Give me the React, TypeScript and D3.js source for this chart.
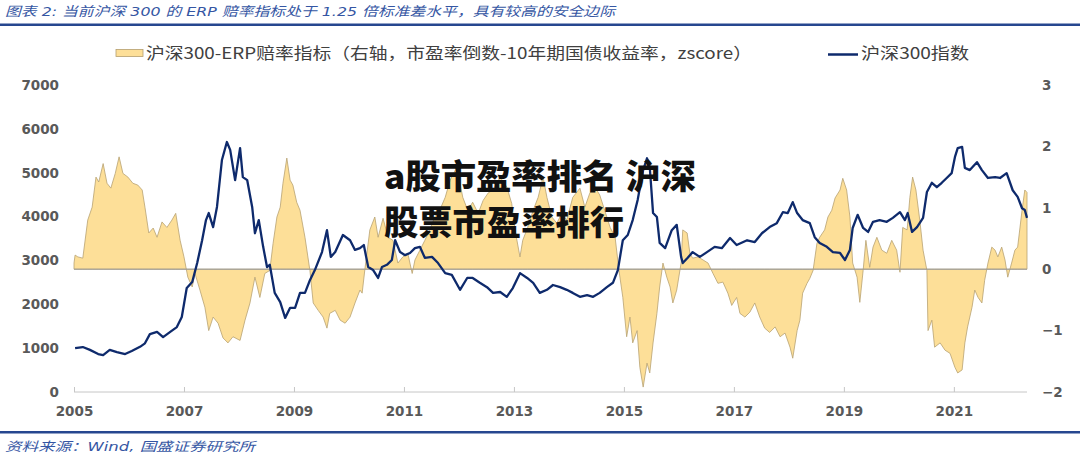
import { useEffect, useRef } from 'react'
import * as d3 from 'd3'

// 沪深300指数 (左轴)
const idxYears = [
  2005.02, 2005.16, 2005.29, 2005.44, 2005.53, 2005.65, 2005.78, 2005.93, 2006.05, 2006.2, 2006.29, 2006.38,
  2006.51, 2006.62, 2006.75, 2006.87, 2006.96, 2007.05, 2007.15, 2007.24, 2007.33, 2007.4, 2007.45, 2007.53,
  2007.6, 2007.69, 2007.78, 2007.84, 2007.93, 2008.02, 2008.07, 2008.15, 2008.24, 2008.29, 2008.36, 2008.44,
  2008.51, 2008.56, 2008.65, 2008.75, 2008.84, 2008.93, 2009.02, 2009.11, 2009.2, 2009.29, 2009.38, 2009.51,
  2009.6, 2009.67, 2009.75, 2009.89, 2010.02, 2010.11, 2010.2, 2010.27, 2010.35, 2010.44, 2010.53, 2010.6,
  2010.69, 2010.78, 2010.84, 2010.93, 2011.02, 2011.11, 2011.2, 2011.29, 2011.38, 2011.51, 2011.62, 2011.75,
  2011.87, 2012.02, 2012.15, 2012.25, 2012.38, 2012.51, 2012.62, 2012.75, 2012.87, 2012.98, 2013.11, 2013.24,
  2013.35, 2013.47, 2013.6, 2013.71, 2013.84, 2013.96, 2014.07, 2014.2, 2014.33, 2014.44, 2014.56, 2014.69,
  2014.8, 2014.89, 2014.98, 2015.07, 2015.16, 2015.25, 2015.35, 2015.42, 2015.47, 2015.53, 2015.6, 2015.65,
  2015.75, 2015.87, 2015.96, 2016.04, 2016.07, 2016.16, 2016.25, 2016.38, 2016.51, 2016.65, 2016.78, 2016.93,
  2017.05, 2017.24, 2017.38, 2017.51, 2017.65, 2017.78, 2017.89, 2017.98, 2018.07, 2018.15, 2018.25, 2018.38,
  2018.47, 2018.56, 2018.69, 2018.8, 2018.93, 2019.02, 2019.11, 2019.16, 2019.25, 2019.35, 2019.44, 2019.53,
  2019.65, 2019.78, 2019.89, 2020.02, 2020.11, 2020.16, 2020.24, 2020.33, 2020.44, 2020.51, 2020.6, 2020.69,
  2020.78, 2020.87, 2020.96, 2021.02, 2021.07, 2021.15, 2021.2, 2021.29, 2021.42, 2021.51, 2021.62, 2021.75,
  2021.84, 2021.96, 2022.07, 2022.16, 2022.24, 2022.29, 2022.33,
]
const idxValues = [
  1000, 1025, 960, 866, 840, 960, 910, 866, 935, 1030, 1110, 1320,
  1370, 1250, 1370, 1480, 1710, 2370, 2510, 2940, 3460, 3920, 4080, 3760,
  4220, 5290, 5700, 5520, 4830, 5560, 4900, 4830, 4220, 3620, 3920, 3310,
  2850, 2900, 2260, 2050, 1690, 1920, 1920, 2260, 2260, 2550, 2780, 3190,
  3690, 3080, 3190, 3580, 3460, 3240, 3280, 3350, 2850, 2780, 2600, 2850,
  2900, 3010, 3460, 3190, 3120, 3170, 3280, 3310, 3060, 3080, 2940, 2710,
  2670, 2330, 2600, 2600, 2490, 2390, 2260, 2280, 2170, 2370, 2710, 2600,
  2490, 2260, 2330, 2440, 2390, 2330, 2260, 2170, 2210, 2170, 2260, 2390,
  2490, 2780, 3460, 3580, 3920, 4380, 5060, 5330, 5130, 4080, 3990, 3400,
  3280, 3690, 3810, 3080, 2940, 3060, 3190, 3080, 3190, 3310, 3280, 3510,
  3350, 3460, 3420, 3620, 3760, 3850, 4100, 4080, 4330, 4080, 3920, 3850,
  3530, 3400, 3310, 3190, 3170, 3010, 3240, 3740, 4040, 3740, 3650, 3880,
  3920, 3880, 3970, 4100, 3920, 4080, 3650, 3760, 3970, 4560, 4770, 4670,
  4770, 4880, 4990, 5360, 5560, 5590, 5110, 5060, 5240, 5060, 4880, 4900,
  4880, 4990, 4600, 4450, 4190, 4150, 3970,
]

// 沪深300-ERP赔率指标 zscore (右轴)
const erpYears = [
  2005.0, 2005.02, 2005.07, 2005.16, 2005.25, 2005.33, 2005.4, 2005.45, 2005.53, 2005.6, 2005.67, 2005.75,
  2005.82, 2005.89, 2005.98, 2006.07, 2006.16, 2006.24, 2006.29, 2006.36, 2006.44, 2006.51, 2006.6, 2006.69,
  2006.78, 2006.85, 2006.93, 2007.0, 2007.07, 2007.15, 2007.2, 2007.29, 2007.38, 2007.45, 2007.53, 2007.62,
  2007.71, 2007.8, 2007.89, 2008.02, 2008.11, 2008.2, 2008.29, 2008.38, 2008.47, 2008.56, 2008.62, 2008.69,
  2008.75, 2008.8, 2008.87, 2008.93, 2008.98, 2009.05, 2009.11, 2009.2, 2009.29, 2009.35, 2009.44, 2009.53,
  2009.6, 2009.65, 2009.75, 2009.84, 2009.93, 2010.02, 2010.11, 2010.2, 2010.24, 2010.29, 2010.38, 2010.47,
  2010.53, 2010.62, 2010.71, 2010.8, 2010.89, 2010.98, 2011.07, 2011.15, 2011.2, 2011.29, 2011.38, 2011.47,
  2011.56, 2011.65, 2011.75, 2011.84, 2011.96, 2012.07, 2012.16, 2012.25, 2012.35, 2012.44, 2012.53, 2012.62,
  2012.75, 2012.87, 2012.96, 2013.02, 2013.11, 2013.16, 2013.25, 2013.35, 2013.44, 2013.53, 2013.6, 2013.69,
  2013.78, 2013.87, 2013.96, 2014.07, 2014.2, 2014.29, 2014.38, 2014.47, 2014.56, 2014.65, 2014.75, 2014.84,
  2014.91, 2014.98, 2015.05, 2015.11, 2015.16, 2015.24, 2015.29, 2015.35, 2015.42, 2015.47, 2015.53, 2015.6,
  2015.65, 2015.71, 2015.78, 2015.84, 2015.89, 2015.96, 2016.04, 2016.07, 2016.15, 2016.2, 2016.25, 2016.35,
  2016.44, 2016.53, 2016.62, 2016.71, 2016.8, 2016.89, 2016.96, 2017.05, 2017.11, 2017.2, 2017.29, 2017.38,
  2017.47, 2017.56, 2017.65, 2017.75, 2017.84, 2017.93, 2018.02, 2018.07, 2018.15, 2018.2, 2018.25, 2018.33,
  2018.38, 2018.44, 2018.51, 2018.56, 2018.65, 2018.71, 2018.78, 2018.84, 2018.93, 2018.98, 2019.05, 2019.11,
  2019.16, 2019.24, 2019.29, 2019.35, 2019.4, 2019.47, 2019.53, 2019.6, 2019.69, 2019.78, 2019.87, 2019.96,
  2020.02, 2020.07, 2020.15, 2020.2, 2020.25, 2020.31, 2020.38, 2020.44, 2020.51, 2020.53, 2020.6, 2020.65,
  2020.75, 2020.84, 2020.93, 2021.02, 2021.07, 2021.15, 2021.2, 2021.25, 2021.33, 2021.38, 2021.44, 2021.51,
  2021.56, 2021.62, 2021.69, 2021.75, 2021.8, 2021.87, 2021.93, 2021.98, 2022.05, 2022.11, 2022.16, 2022.24,
  2022.29, 2022.33,
]
const erpValues = [
  0.1, 0.23, 0.2, 0.18, 0.8, 1.01, 1.5, 1.42, 1.72, 1.4, 1.32, 1.56,
  1.83, 1.56, 1.5, 1.4, 1.37, 1.29, 1.01, 0.59, 0.67, 0.52, 0.77, 0.68,
  0.8, 0.91, 0.47, 0.2, -0.13, -0.29, -0.07, -0.34, -0.62, -1.0, -0.78, -0.88,
  -1.12, -1.2, -1.1, -1.16, -0.83, -0.55, -0.13, -0.46, -0.07, -0.02, 0.42, 0.85,
  1.01, 1.4, 1.81, 1.45, 1.37, 1.09, 0.96, 0.52, -0.02, -0.55, -0.67, -0.78,
  -0.96, -0.72, -0.67, -0.83, -0.88, -0.78, -0.55, -0.34, -0.39, 0.0, 0.64, 0.85,
  0.52, 0.83, 0.52, 0.47, 0.1, 0.2, 0.26, -0.07, 0.15, 0.31, 0.47, 0.64,
  0.85, 0.96, 1.17, 1.45, 1.66, 1.17, 0.96, 1.09, 0.91, 1.12, 1.24, 1.29,
  1.5, 1.34, 1.07, 0.64, 0.2, 0.47, 0.68, 0.96, 1.17, 1.5, 1.17, 0.85,
  0.75, 0.91, 0.8, 1.17, 1.32, 1.01, 1.24, 1.34, 1.21, 0.96, 0.68, 0.52,
  -0.02, -0.46, -1.1, -0.78, -1.2, -1.0, -1.6, -1.92, -1.53, -1.69, -1.2, -0.72,
  -0.29, 0.1, -0.13, -0.29, -0.55, -0.34, 0.1, 0.64, 0.59, 0.26, 0.18, 0.2,
  0.15, 0.1, -0.07, -0.23, -0.21, -0.39, -0.59, -0.46, -0.72, -0.78, -0.7, -0.55,
  -0.78, -0.96, -1.03, -0.94, -1.1, -1.04, -1.27, -1.45, -1.0, -0.83, -0.39, -0.23,
  -0.15, -0.02, 0.42, 0.52, 0.64, 0.85, 0.96, 1.16, 1.29, 1.48, 1.29, 0.85,
  0.1, -0.13, -0.54, -0.02, 0.47, 0.03, 0.36, 0.52, 0.31, 0.26, 0.47, 0.31,
  -0.05, 0.68, 0.64, 1.17, 1.5, 1.29, 0.8, 0.31, -0.02, -1.0, -0.83, -1.27,
  -1.2, -1.32, -1.37, -1.6, -1.69, -1.64, -1.2, -0.94, -0.62, -0.34, -0.46, -0.55,
  -0.18, 0.1, 0.36, 0.31, 0.2, 0.36, 0.15, -0.13, 0.1, 0.31, 0.36, 0.96,
  1.29, 1.25,
]

const xTicks = [2005, 2007, 2009, 2011, 2013, 2015, 2017, 2019, 2021]
const leftTicks = [0, 1000, 2000, 3000, 4000, 5000, 6000, 7000]
const rightTicks = [-2, -1, 0, 1, 2, 3]

const W = 1080
const H = 458
const CJK = '"Noto Sans CJK SC", sans-serif'
const NUM = '"DejaVu Sans", Verdana, sans-serif'

export default function App() {
  const svgRef = useRef<SVGSVGElement>(null)

  useEffect(() => {
    if (!svgRef.current) return
    const svg = d3.select(svgRef.current)
    svg.selectAll('*').remove()

    const m = { left: 74, right: 1027, top: 85, bottom: 392 }
    const x = d3.scaleLinear().domain([2005, 2022.33]).range([m.left, m.right])
    const yL = d3.scaleLinear().domain([0, 7000]).range([m.bottom, m.top])
    const yR = d3.scaleLinear().domain([-2, 3]).range([m.bottom, m.top])

    svg.append('rect').attr('width', W).attr('height', H).attr('fill', '#fff')

    // title + rules
    svg.append('text')
      .attr('x', 5).attr('y', 16)
      .attr('font-family', `${NUM.replace(', sans-serif', '')}, ${CJK}`)
      .attr('font-style', 'italic').attr('font-size', 13)
      .attr('fill', '#3556a3')
      .attr('textLength', 610).attr('lengthAdjust', 'spacingAndGlyphs')
      .text('图表 2:  当前沪深 300 的 ERP 赔率指标处于 1.25 倍标准差水平，具有较高的安全边际')
    svg.append('rect').attr('x', 0).attr('y', 23.5).attr('width', W).attr('height', 2.5).attr('fill', '#26478f')
    svg.append('rect').attr('x', 0).attr('y', 431).attr('width', W).attr('height', 2.5).attr('fill', '#26478f')
    svg.append('text')
      .attr('x', 5).attr('y', 451)
      .attr('font-family', `"DejaVu Sans", ${CJK}`)
      .attr('font-style', 'italic').attr('font-size', 12.5)
      .attr('fill', '#3556a3')
      .attr('textLength', 250).attr('lengthAdjust', 'spacingAndGlyphs')
      .text('资料来源：Wind, 国盛证券研究所')

    // legend
    const lg = svg.append('g').attr('font-family', CJK).attr('font-size', 16).attr('fill', '#404040')
    lg.append('rect').attr('x', 116).attr('y', 49.5).attr('width', 27).attr('height', 7)
      .attr('fill', '#fddf98').attr('stroke', '#b59f6e').attr('stroke-width', 0.8)
    lg.append('text').attr('x', 146).attr('y', 59)
      .attr('textLength', 606).attr('lengthAdjust', 'spacingAndGlyphs')
      .text('沪深300-ERP赔率指标（右轴，市盈率倒数-10年期国债收益率，zscore）')
    lg.append('line').attr('x1', 828).attr('x2', 858).attr('y1', 54.5).attr('y2', 54.5)
      .attr('stroke', '#0e2a6c').attr('stroke-width', 2.5)
    lg.append('text').attr('x', 861).attr('y', 59)
      .attr('textLength', 108).attr('lengthAdjust', 'spacingAndGlyphs')
      .text('沪深300指数')

    const plot = svg.append('g')

    // ERP area
    const area = d3.area<number>()
      .x((_, i) => x(erpYears[i]))
      .y0(yR(0))
      .y1(d => yR(d))
    plot.append('path').datum(erpValues).attr('d', area)
      .attr('fill', '#fddf98').attr('stroke', '#b8a272').attr('stroke-width', 0.8)
      .attr('stroke-linejoin', 'round')

    // zero line
    plot.append('line')
      .attr('x1', m.left).attr('x2', m.right)
      .attr('y1', yR(0)).attr('y2', yR(0))
      .attr('stroke', '#9a9a9a').attr('stroke-width', 1)

    // index line
    const line = d3.line<number>()
      .x((_, i) => x(idxYears[i]))
      .y(d => yL(d))
    plot.append('path').datum(idxValues).attr('d', line)
      .attr('fill', 'none').attr('stroke', '#0e2a6c').attr('stroke-width', 2.3)
      .attr('stroke-linejoin', 'round')

    // x axis
    const xa = svg.append('g').attr('transform', `translate(0,${m.bottom})`)
      .call(d3.axisBottom(x).tickValues(xTicks).tickFormat(d3.format('d')).tickSizeInner(-5).tickSizeOuter(0).tickPadding(14))
    xa.select('.domain').attr('stroke', '#c6c6c6').attr('d', `M${m.left},0H${m.right}`)
    xa.selectAll('line').attr('stroke', '#c6c6c6')
    xa.selectAll('text').attr('font-family', NUM).attr('font-weight', 'bold')
      .attr('font-size', 13.5).attr('fill', '#595959')

    // left axis
    const la = svg.append('g').attr('transform', `translate(${m.left},0)`)
      .call(d3.axisLeft(yL).tickValues(leftTicks).tickFormat(d3.format('d')).tickSize(0).tickPadding(15))
    la.select('.domain').remove()
    la.selectAll('text').attr('font-family', NUM).attr('font-weight', 'bold')
      .attr('font-size', 13.5).attr('fill', '#595959')

    // right axis
    const ra = svg.append('g').attr('transform', `translate(${m.right},0)`)
      .call(d3.axisRight(yR).tickValues(rightTicks).tickFormat(d3.format('d')).tickSize(0).tickPadding(15))
    ra.select('.domain').remove()
    ra.selectAll('text').attr('font-family', NUM).attr('font-weight', 'bold')
      .attr('font-size', 13.5).attr('fill', '#595959')

    // overlay caption
    const cap = svg.append('g').attr('font-family', CJK).attr('font-weight', 900)
      .attr('font-size', 34).attr('fill', '#111')
    cap.append('text').attr('x', 384).attr('y', 189)
      .attr('textLength', 312).attr('lengthAdjust', 'spacingAndGlyphs')
      .text('a股市盈率排名 沪深')
    cap.append('text').attr('x', 384).attr('y', 235)
      .attr('textLength', 240).attr('lengthAdjust', 'spacingAndGlyphs')
      .text('股票市盈率排行')
  }, [])

  return (
    <div style={{ position: 'absolute', left: 0, top: 0, width: W, height: H }}>
      <svg ref={svgRef} width={W} height={H} style={{ display: 'block' }} />
    </div>
  )
}
